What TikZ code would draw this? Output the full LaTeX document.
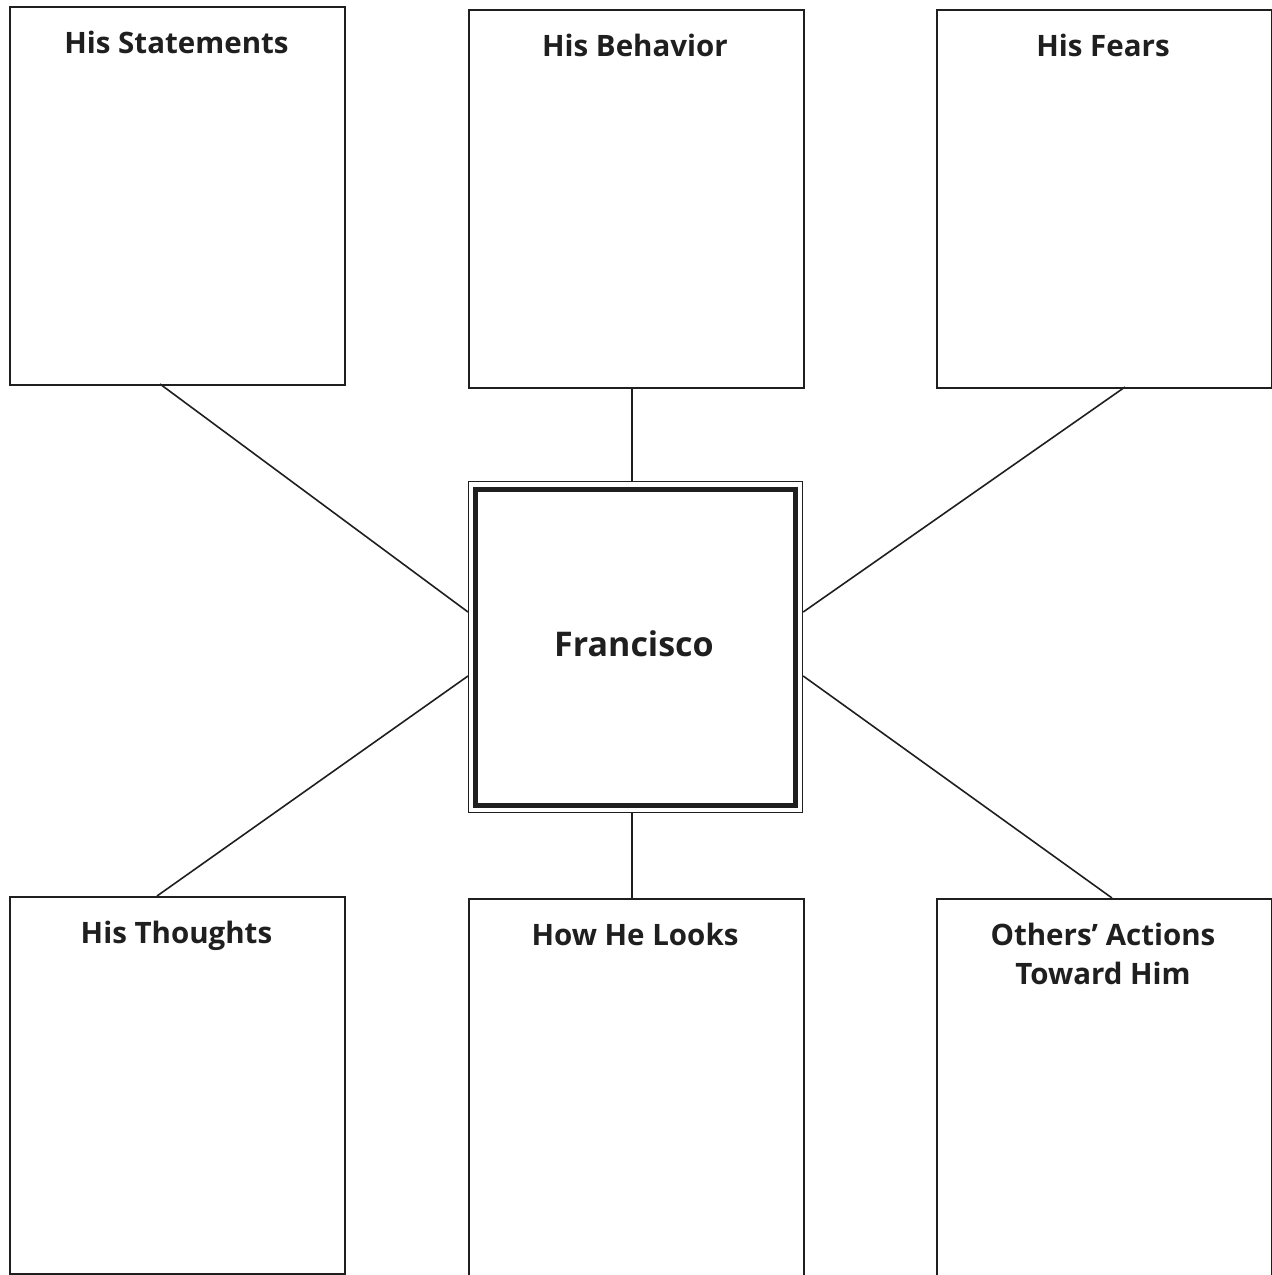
\documentclass[tikz,border=0pt]{standalone}
\usepackage{fontspec}
\setmainfont{Open Sans}
\begin{document}
\begin{tikzpicture}[x=1pt,y=-1pt,
  ink/.style={draw=black!88},
  panel/.style={ink, line width=2.2pt, rectangle, minimum width=335pt, minimum height=378pt, anchor=north west, inner sep=0pt},
  head/.style={font=\fontsize{29.5}{35}\selectfont\bfseries, text=black!88, align=center, anchor=base},
  link/.style={ink, line width=1.6pt}]
\useasboundingbox (0,0) rectangle (1272,1275);
\clip (0,0) rectangle (1272,1275);
% top row
\node[panel] (st) at (9,6) {};
\node[panel] (be) at (468,9) {};
\node[panel] (fe) at (936,9) {};
% bottom row
\node[panel, minimum height=377pt] (th) at (9,896) {};
\node[panel, minimum height=420pt] (lo) at (468,898) {};
\node[panel, minimum height=420pt] (ot) at (936,898) {};
% center
\node[ink, line width=1.2pt, rectangle, minimum width=334pt, minimum height=331pt, inner sep=0pt, anchor=north west] (fr) at (468,481) {};
\node[ink, line width=5pt, rectangle, minimum width=320pt, minimum height=316pt, inner sep=0pt] (frin) at (fr.center) {};
\node[head, font=\fontsize{34}{40}\selectfont\bfseries] (frt) at (634,656) {Francisco};
% headings
\node[head] (stt) at (176.5,53) {His Statements};
\node[head] (bet) at (635,56) {His Behavior};
\node[head] (fet) at (1103,56) {His Fears};
\node[head] (tht) at (176.5,943) {His Thoughts};
\node[head] (lot) at (635,945) {How He Looks};
\node[head] (ott) at (1103,945) {Others’ Actions};
\node[head] (ott2) at (1103,984) {Toward Him};
% connectors
\coordinate (c1) at (160,384);
\coordinate (c2) at (1125,387);
\coordinate (c3) at (157,896);
\coordinate (c4) at (1112,898);
\draw[link] (c1) -- (fr.west |- 0,612);
\draw[link] (be.south -| 632,0) -- (fr.north -| 632,0);
\draw[link] (c2) -- (fr.east |- 0,612);
\draw[link] (c3) -- (fr.west |- 0,676);
\draw[link] (fr.south -| 632,0) -- (lo.north -| 632,0);
\draw[link] (c4) -- (fr.east |- 0,676);
\end{tikzpicture}
\end{document}
